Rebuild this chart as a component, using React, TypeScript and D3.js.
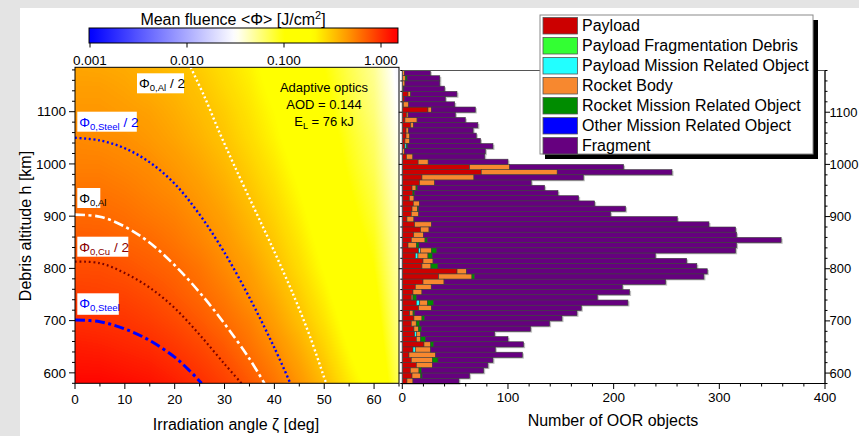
import { useEffect, useRef } from 'react'
import * as d3 from 'd3'

const FONT = '"Liberation Sans", Arial, sans-serif'

// fluence map: log10 <Φ> [J/cm²]
const mapAngles = [0, 5, 10, 15, 20, 25, 30, 35, 40, 45, 50, 55, 60, 65]
const mapAltitudes = [560, 600, 650, 700, 750, 800, 850, 900, 950, 1000, 1050, 1100, 1150, 1200]
const logFluence = [
  [0.17, 0.16, 0.15, 0.12, 0.08, 0.03, -0.03, -0.11, -0.20, -0.31, -0.44, -0.60, -0.73, -1.15],
  [0.11, 0.11, 0.09, 0.07, 0.03, -0.02, -0.08, -0.16, -0.25, -0.36, -0.49, -0.65, -0.79, -1.19],
  [0.06, 0.05, 0.03, 0.01, -0.03, -0.08, -0.14, -0.22, -0.31, -0.42, -0.55, -0.71, -0.85, -1.23],
  [0.00, -0.01, -0.02, -0.05, -0.09, -0.14, -0.20, -0.27, -0.37, -0.48, -0.61, -0.76, -0.90, -1.27],
  [-0.05, -0.06, -0.07, -0.10, -0.14, -0.19, -0.25, -0.33, -0.42, -0.53, -0.66, -0.81, -0.95, -1.30],
  [-0.10, -0.10, -0.12, -0.15, -0.18, -0.23, -0.30, -0.37, -0.47, -0.58, -0.71, -0.86, -1.00, -1.33],
  [-0.14, -0.15, -0.17, -0.19, -0.23, -0.28, -0.34, -0.42, -0.51, -0.62, -0.75, -0.91, -1.04, -1.36],
  [-0.19, -0.19, -0.21, -0.24, -0.27, -0.32, -0.38, -0.46, -0.55, -0.66, -0.79, -0.95, -1.09, -1.39],
  [-0.23, -0.23, -0.25, -0.28, -0.31, -0.36, -0.42, -0.50, -0.59, -0.70, -0.83, -0.99, -1.13, -1.42],
  [-0.27, -0.27, -0.29, -0.31, -0.35, -0.40, -0.46, -0.54, -0.63, -0.74, -0.87, -1.03, -1.17, -1.45],
  [-0.30, -0.31, -0.32, -0.35, -0.39, -0.44, -0.50, -0.58, -0.67, -0.78, -0.91, -1.06, -1.20, -1.48],
  [-0.34, -0.34, -0.36, -0.38, -0.42, -0.47, -0.53, -0.61, -0.70, -0.81, -0.94, -1.10, -1.24, -1.51],
  [-0.37, -0.37, -0.39, -0.42, -0.45, -0.50, -0.57, -0.64, -0.74, -0.85, -0.98, -1.13, -1.27, -1.54],
  [-0.40, -0.41, -0.42, -0.45, -0.49, -0.54, -0.60, -0.67, -0.77, -0.88, -1.01, -1.16, -1.30, -1.57],
]

const colorStops = [-3, -1.5, -1.0, -0.7, -0.35, 0.15]
const colorValues = ['#0000ff', '#ffffff', '#ffff00', '#ffff00', '#ff9900', '#ff0000']
const colorbarTicks = [0.001, 0.01, 0.1, 1]
const colorbarLabels = ['0.001', '0.010', '0.100', '1.000']

// threshold contours, [angle deg, altitude km]
const steelLine = [[0, 701], [5, 698], [10, 684], [15, 662], [20, 630], [23, 604], [25.4, 580]]
const copperHalfLine = [[0, 813], [5, 810], [10, 791], [15, 763], [20, 724], [25, 673], [30, 617], [33.4, 580]]
const aluminiumLine = [[0, 903], [5, 899], [10, 880], [15, 849], [20, 806], [25, 754], [30, 694], [35, 627], [38, 580]]
const steelHalfLine = [[0, 1050], [5, 1045], [10, 1030], [15, 1003], [20, 962], [25, 903], [30, 830], [35, 744], [40, 648], [43.2, 580]]
const aluminiumHalfLine = [[23.2, 1185], [26, 1128], [29, 1060], [32, 996], [36, 914], [40, 832], [44, 745], [47.2, 668], [50.2, 585], [50.4, 580]]

const angleTicks = [0, 10, 20, 30, 40, 50, 60]
const altTicks = [600, 700, 800, 900, 1000, 1100]
const countTicks = [0, 100, 200, 300, 400]

// OOR objects per 10 km altitude bin (lower edge), top to bottom
const binLow = [1170, 1160, 1150, 1140, 1130, 1120, 1110, 1100, 1090, 1080, 1070, 1060, 1050, 1040, 1030, 1020, 1010, 1000, 990, 980,
  970, 960, 950, 940, 930, 920, 910, 900, 890, 880, 870, 860, 850, 840, 830, 820, 810, 800, 790, 780,
  770, 760, 750, 740, 730, 720, 710, 700, 690, 680, 670, 660, 650, 640, 630, 620, 610, 600, 590, 580]
const payload = [0, 0, 0, 0, 5.4, 2, 1, 24.3, 4, 2.5, 8, 3.5, 3.5, 2.5, 2.5, 0, 4, 15, 63.7, 74.7,
  18.6, 16.4, 9.2, 10, 6.7, 10.4, 9.2, 8.5, 4.4, 11.7, 17.4, 10.8, 8.5, 5.4, 15.5, 12.3, 19.6, 18.6, 51.8, 34.4,
  19.6, 12.3, 10.1, 8.5, 13.3, 15.5, 7, 11, 8.5, 11, 11.7, 13.3, 20.5, 10.1, 6.3, 8.5, 13.3, 7.6, 9.2, 4.4]
const payloadFragDebris = [0, 0, 0, 0, 0, 0, 0, 0, 0, 0, 0, 0, 0, 0, 0, 0, 0, 0, 0, 0,
  0, 0, 0, 0, 0, 0, 0, 0, 0, 0, 0, 0, 0, 0, 0, 0, 0, 0, 0, 0,
  0, 0, 0, 0, 0, 0, 0, 0, 0, 0, 0, 0, 0, 0, 0, 0, 0, 0, 0, 0]
const payloadMissionObj = [0, 0, 0, 0, 0, 0, 0, 0, 0, 0, 0, 0, 0, 0, 1.5, 0, 0, 0, 0, 0,
  0, 0, 0, 0, 0, 0, 0, 0, 0, 0, 0, 0, 0, 0, 1.6, 2.5, 0, 0, 0, 0,
  0, 0, 0, 0, 3.2, 0, 0, 0, 0, 0, 1.6, 0, 0, 2.2, 0, 0, 0, 0, 0, 0]
const rocketBody = [2, 3, 2.5, 1, 2.5, 0, 5, 3.2, 1.5, 11.5, 2.5, 2.5, 3.5, 4.5, 0, 2, 6, 9.5, 37.8, 71.9,
  49.2, 14.2, 3.8, 0, 4.4, 5.7, 5, 7, 6.6, 15.8, 7.9, 9.1, 13, 7.9, 10.4, 9.5, 9.5, 8.5, 8.8, 31.5,
  19.9, 15.1, 8.5, 1.6, 7.3, 12, 3.2, 7.6, 4.7, 4.4, 4.1, 4.1, 6.3, 14.5, 25.2, 19.9, 15.1, 8.2, 8.2, 5.7]
const rocketMissionObj = [0, 1.5, 0, 0.5, 0, 0, 0, 0, 0, 0, 0, 0, 0, 0, 1, 0, 0, 0, 0, 0,
  0, 0, 1.2, 1.3, 0, 0, 1.3, 0, 0, 0, 0, 0, 2, 2.5, 5, 4.1, 0, 6.6, 0, 2.5,
  0, 0, 0, 3.2, 5.7, 0, 1.6, 2.5, 3.2, 2.5, 0, 4.4, 2.8, 0, 0, 5.4, 0, 2.2, 1.3, 0]
const otherMissionObj = [0, 0, 0, 0, 0, 0, 0, 0, 0, 0, 0, 0, 0, 0, 0, 0, 0, 0, 0, 0,
  0, 0, 0, 0, 0, 0, 0, 0, 0, 0, 0, 0, 0, 0, 0, 0, 0, 0, 0, 0,
  0, 0, 0, 0, 0, 0, 0, 0, 0, 0, 0, 0, 0, 0, 0, 0, 0, 0, 0, 0]
const fragment = [24.5, 31, 33, 38.5, 43.8, 38.7, 43.6, 41.6, 44.7, 45.6, 61, 61, 63, 67, 80.8, 76.6, 68, 75.5, 107.9, 108.6,
  103.5, 91.4, 120.5, 136, 155.8, 165.9, 195.8, 181.6, 249.2, 262.7, 290.1, 296.4, 335, 300.5, 282.9, 211, 240, 245, 228, 217,
  209.7, 180.8, 196.5, 171.2, 184, 141.9, 153.5, 130, 123, 103.5, 70, 78.2, 85.2, 61.2, 82.1, 52, 52.6, 59, 45, 43.5]

const categories = ['Payload', 'Payload Fragmentation Debris', 'Payload Mission Related Object', 'Rocket Body',
  'Rocket Mission Related Object', 'Other Mission Related Object', 'Fragment']
const categoryColors = ['#cc0000', '#33ff33', '#22ffff', '#f7882f', '#008c00', '#0000ff', '#66007f']
const series = [payload, payloadFragDebris, payloadMissionObj, rocketBody, rocketMissionObj, otherMissionObj, fragment]

export default function App() {
  const svgRef = useRef<SVGSVGElement>(null)

  useEffect(() => {
    if (!svgRef.current) return
    const svg = d3.select(svgRef.current)
    svg.selectAll('*').remove()

    const xA = d3.scaleLinear().domain([0, 65]).range([75, 399])
    const yA = d3.scaleLinear().domain([580, 1185]).range([383.3, 67.3])
    const xN = d3.scaleLinear().domain([0, 400]).range([402.3, 825])
    const yN = d3.scaleLinear().domain([580, 1180]).range([383.5, 70.5])
    const cbX = d3.scaleLog().domain([0.001, 1]).range([90, 381])
    const color = d3.scaleLinear<string>().domain(colorStops).range(colorValues).interpolate(d3.interpolateRgb).clamp(true)

    const defs = svg.append('defs')
    defs.append('clipPath').attr('id', 'clip-left')
      .append('rect').attr('x', 75).attr('y', 67.3).attr('width', 324).attr('height', 316)

    // page background
    svg.append('rect').attr('width', 859).attr('height', 436).attr('fill', '#e4e4e4')
    svg.append('rect').attr('x', 20).attr('y', 8).attr('width', 839).attr('height', 428).attr('fill', '#fff')

    // ---- heat map
    const lut = d3.range(512).map(i => d3.rgb(color(-3.1 + (i / 511) * 3.4)))
    const sample = (a: number, h: number) => {
      const i = Math.max(0, Math.min(mapAngles.length - 2, d3.bisectRight(mapAngles, a) - 1))
      const j = Math.max(0, Math.min(mapAltitudes.length - 2, d3.bisectRight(mapAltitudes, h) - 1))
      const ta = (a - mapAngles[i]) / (mapAngles[i + 1] - mapAngles[i])
      const th = (h - mapAltitudes[j]) / (mapAltitudes[j + 1] - mapAltitudes[j])
      const v0 = logFluence[j][i] * (1 - ta) + logFluence[j][i + 1] * ta
      const v1 = logFluence[j + 1][i] * (1 - ta) + logFluence[j + 1][i + 1] * ta
      return v0 * (1 - th) + v1 * th
    }
    const cw = 324, ch = 316
    const canvas = document.createElement('canvas')
    canvas.width = cw
    canvas.height = ch
    const ctx = canvas.getContext('2d')
    if (ctx) {
      const img = ctx.createImageData(cw, ch)
      for (let py = 0; py < ch; py++) {
        const h = yA.invert(67.3 + py + 0.5)
        for (let px = 0; px < cw; px++) {
          const v = sample(xA.invert(75 + px + 0.5), h)
          const k = Math.max(0, Math.min(511, Math.round(((v + 3.1) / 3.4) * 511)))
          const c = lut[k]
          const o = (py * cw + px) * 4
          img.data[o] = c.r
          img.data[o + 1] = c.g
          img.data[o + 2] = c.b
          img.data[o + 3] = 255
        }
      }
      ctx.putImageData(img, 0, 0)
      svg.append('image').attr('x', 75).attr('y', 67.3).attr('width', cw).attr('height', ch)
        .attr('preserveAspectRatio', 'none').attr('href', canvas.toDataURL())
    }

    // ---- threshold contours
    const line = d3.line<number[]>().x(d => xA(d[0])).y(d => yA(d[1])).curve(d3.curveCatmullRom)
    const contours = [
      { pts: aluminiumHalfLine, stroke: '#ffffff', w: 2.4, dash: '2,2.6' },
      { pts: steelHalfLine, stroke: '#0000ff', w: 2.4, dash: '2,2.6' },
      { pts: aluminiumLine, stroke: '#ffffff', w: 2.6, dash: '10,3.5,3,3.5' },
      { pts: copperHalfLine, stroke: '#7a0000', w: 2.2, dash: '1.8,2.8' },
      { pts: steelLine, stroke: '#0000ff', w: 3, dash: '10,3.5,3,3.5' },
    ]
    const cg = svg.append('g').attr('clip-path', 'url(#clip-left)')
    contours.forEach(c => {
      cg.append('path').attr('d', line(c.pts)).attr('fill', 'none')
        .attr('stroke', c.stroke).attr('stroke-width', c.w).attr('stroke-dasharray', c.dash)
    })

    // threshold labels
    const labels = [
      { sub: '0,Al', tail: ' / 2', color: '#000', box: [137, 73.3, 47, 20] },
      { sub: '0,Steel', tail: ' / 2', color: '#0000ff', box: [77.3, 111.7, 59.5, 20] },
      { sub: '0,Al', tail: '', color: '#000', box: [77.3, 188, 23, 20] },
      { sub: '0,Cu', tail: ' / 2', color: '#8b0000', box: [77.3, 236.7, 51, 20] },
      { sub: '0,Steel', tail: '', color: '#0000ff', box: [77.3, 293.3, 41.5, 21.5] },
    ]
    labels.forEach(l => {
      const [bx, by, bw, bh] = l.box
      svg.append('rect').attr('x', bx).attr('y', by).attr('width', bw).attr('height', bh).attr('fill', '#fff')
      const t = svg.append('text').attr('x', bx + 2).attr('y', by + 15).attr('fill', l.color)
        .style('font-family', FONT).style('font-size', '13.5px')
      t.append('tspan').text('Φ')
      t.append('tspan').attr('dy', 3).style('font-size', '9.5px').text(l.sub)
      if (l.tail) t.append('tspan').attr('dy', -3).text(l.tail)
    })

    // annotation
    const note = svg.append('g').style('font-family', FONT).style('font-size', '13px').attr('text-anchor', 'middle')
    note.append('text').attr('x', 324).attr('y', 92).text('Adaptive optics')
    note.append('text').attr('x', 324).attr('y', 108.5).text('AOD = 0.144')
    const el = note.append('text').attr('x', 324).attr('y', 125.5)
    el.append('tspan').text('E')
    el.append('tspan').attr('dy', 3).style('font-size', '9px').text('L')
    el.append('tspan').attr('dy', -3).text(' = 76 kJ')

    // left frame + axes
    svg.append('rect').attr('x', 75).attr('y', 67.3).attr('width', 324).attr('height', 316)
      .attr('fill', 'none').attr('stroke', '#000').attr('stroke-width', 1)
    const axL = svg.append('g').attr('stroke', '#000').attr('stroke-width', 1)
    d3.range(580, 1186, 20).forEach(v => {
      const major = altTicks.includes(v)
      axL.append('line').attr('x1', 75).attr('x2', major ? 69 : 72).attr('y1', yA(v)).attr('y2', yA(v))
    })
    d3.range(0, 66, 5).forEach(v => {
      const major = angleTicks.includes(v)
      axL.append('line').attr('y1', 383.3).attr('y2', major ? 389 : 386.5).attr('x1', xA(v)).attr('x2', xA(v))
    })
    const tl = svg.append('g').style('font-family', FONT).style('font-size', '13.5px')
    altTicks.forEach(v => {
      tl.append('text').attr('x', 66).attr('y', yA(v)).attr('dy', '0.35em').attr('text-anchor', 'end').text(v)
    })
    angleTicks.forEach(v => {
      tl.append('text').attr('x', xA(v)).attr('y', 404).attr('text-anchor', 'middle').text(v)
    })

    // ---- colour bar
    const cbMin = 10 ** -3.01, cbMax = 10 ** 0.175
    const grad = defs.append('linearGradient').attr('id', 'cb-grad').attr('x1', 0).attr('x2', 1).attr('y1', 0).attr('y2', 0)
    d3.range(61).forEach(i => {
      const lv = Math.log10(cbMin) + (i / 60) * (Math.log10(cbMax) - Math.log10(cbMin))
      grad.append('stop').attr('offset', `${(i / 60) * 100}%`).attr('stop-color', color(lv))
    })
    svg.append('rect').attr('x', cbX(cbMin)).attr('y', 28).attr('width', cbX(cbMax) - cbX(cbMin)).attr('height', 15)
      .attr('fill', 'url(#cb-grad)').attr('stroke', '#000').attr('stroke-width', 1)
    colorbarTicks.forEach((v, i) => {
      svg.append('line').attr('x1', cbX(v)).attr('x2', cbX(v)).attr('y1', 43).attr('y2', 47.5).attr('stroke', '#000')
      tl.append('text').attr('x', cbX(v)).attr('y', 64.5).attr('text-anchor', 'middle').text(colorbarLabels[i])
    })
    const cbt = svg.append('text').attr('x', 233).attr('y', 25).attr('text-anchor', 'middle')
      .style('font-family', FONT).style('font-size', '16px')
    cbt.append('tspan').text('Mean fluence <Φ> [J/cm')
    cbt.append('tspan').attr('dy', -6).style('font-size', '11px').text('2')
    cbt.append('tspan').attr('dy', 6).text(']')

    // ---- stacked bars
    const rows = binLow.map((b, i) => {
      const r: Record<string, number> = { alt: b }
      categories.forEach((c, k) => { r[c] = series[k][i] })
      return r
    })
    const stacked = d3.stack<Record<string, number>>().keys(categories)(rows)
    const bars = svg.append('g')
    rows.forEach(r => {
      const total = d3.sum(categories, c => r[c])
      bars.append('rect').attr('x', xN(0)).attr('y', yN(r.alt + 10) + 1.2)
        .attr('width', xN(total) - xN(0) + 1.5).attr('height', yN(r.alt) - yN(r.alt + 10))
        .attr('fill', '#bdbdbd')
    })
    stacked.forEach((layer, k) => {
      bars.append('g').selectAll('rect')
        .data(layer.filter(d => d[1] - d[0] > 0))
        .join('rect')
        .attr('x', d => xN(d[0]))
        .attr('y', d => yN(d.data.alt + 10))
        .attr('width', d => xN(d[1]) - xN(d[0]))
        .attr('height', d => yN(d.data.alt) - yN(d.data.alt + 10))
        .attr('fill', categoryColors[k])
        .attr('stroke', '#3c3c3c').attr('stroke-width', 0.6)
    })

    // right frame + axes
    svg.append('rect').attr('x', 402.3).attr('y', 70.5).attr('width', 825 - 402.3).attr('height', 313)
      .attr('fill', 'none').attr('stroke', '#555').attr('stroke-width', 1)
    svg.append('line').attr('x1', 825).attr('x2', 825).attr('y1', 70.5).attr('y2', 383.5).attr('stroke', '#000')
    svg.append('line').attr('x1', 402.3).attr('x2', 825).attr('y1', 383.5).attr('y2', 383.5).attr('stroke', '#000')
    const axR = svg.append('g').attr('stroke', '#000').attr('stroke-width', 1)
    d3.range(580, 1181, 20).forEach(v => {
      const major = altTicks.includes(v)
      axR.append('line').attr('x1', 825).attr('x2', major ? 830 : 827.5).attr('y1', yN(v)).attr('y2', yN(v))
      axR.append('line').attr('x1', 402.3).attr('x2', major ? 398.8 : 400.3).attr('y1', yN(v)).attr('y2', yN(v))
    })
    d3.range(0, 401, 20).forEach(v => {
      const major = countTicks.includes(v)
      axR.append('line').attr('y1', 383.5).attr('y2', major ? 389 : 386.5).attr('x1', xN(v)).attr('x2', xN(v))
    })
    altTicks.forEach(v => {
      tl.append('text').attr('x', 829.5).attr('y', yN(v)).attr('dy', '0.35em').style('font-size', '13px').text(v)
    })
    countTicks.forEach(v => {
      tl.append('text').attr('x', xN(v)).attr('y', 402).attr('text-anchor', 'middle').text(v)
    })

    // axis titles
    const tt = svg.append('g').style('font-family', FONT).style('font-size', '16px').attr('text-anchor', 'middle')
    tt.append('text').attr('transform', 'translate(31,226) rotate(-90)').text('Debris altitude h [km]')
    tt.append('text').attr('x', 236).attr('y', 430).text('Irradiation angle ζ [deg]')
    tt.append('text').attr('x', 613).attr('y', 425.5).text('Number of OOR objects')

    // ---- legend
    const lg = svg.append('g')
    lg.append('rect').attr('x', 545).attr('y', 20).attr('width', 273).attr('height', 139).attr('fill', '#000')
    lg.append('rect').attr('x', 540).attr('y', 15).attr('width', 273).attr('height', 139)
      .attr('fill', '#fff').attr('stroke', '#8a8a8a').attr('stroke-width', 1)
    categories.forEach((c, i) => {
      lg.append('rect').attr('x', 543).attr('y', 17.5 + i * 20).attr('width', 34.5).attr('height', 16.5)
        .attr('fill', categoryColors[i]).attr('stroke', '#555').attr('stroke-width', 0.8)
      lg.append('text').attr('x', 582).attr('y', 31.3 + i * 20)
        .style('font-family', FONT).style('font-size', '16px').text(c)
    })
  }, [])

  return (
    <svg ref={svgRef} width={859} height={436}
      style={{ position: 'absolute', left: 0, top: 0, display: 'block', background: '#fff' }} />
  )
}
